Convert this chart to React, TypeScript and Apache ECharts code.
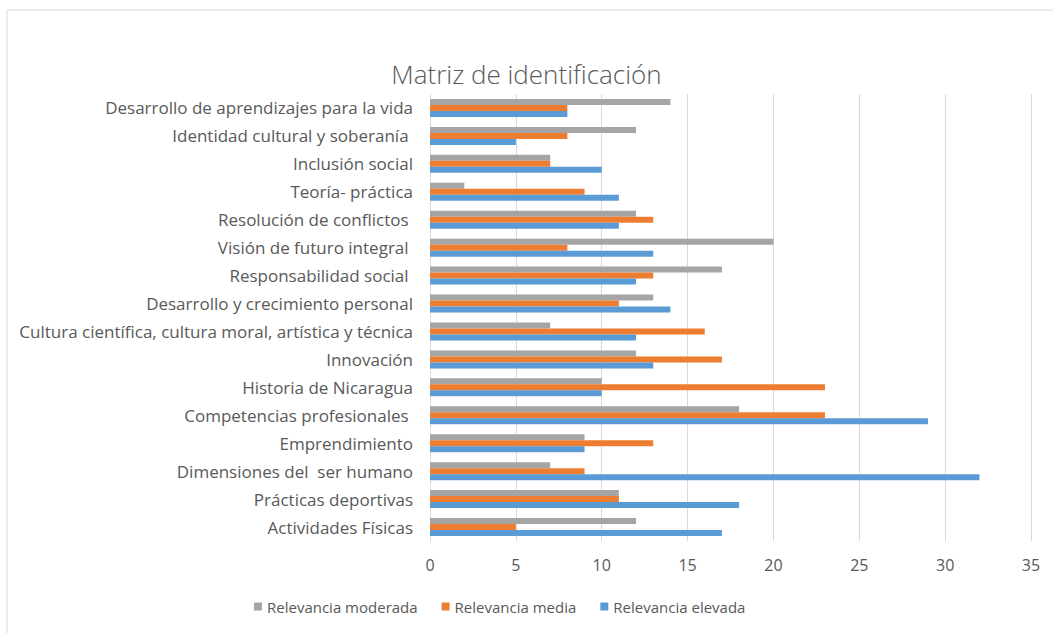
import React, { useEffect, useRef } from "react";
import * as echarts from "echarts";

const categories = [
  "Actividades Físicas",
  "Prácticas deportivas",
  "Dimensiones del  ser humano",
  "Emprendimiento",
  "Competencias profesionales ",
  "Historia de Nicaragua",
  "Innovación",
  "Cultura científica, cultura moral, artística y técnica",
  "Desarrollo y crecimiento personal",
  "Responsabilidad social ",
  "Visión de futuro integral ",
  "Resolución de conflictos ",
  "Teoría- práctica",
  "Inclusión social",
  "Identidad cultural y soberanía ",
  "Desarrollo de aprendizajes para la vida",
];

const elevada = [17, 18, 32, 9, 29, 10, 13, 12, 14, 12, 13, 11, 11, 10, 5, 8];
const media = [5, 11, 9, 13, 23, 23, 17, 16, 11, 13, 8, 13, 9, 7, 8, 8];
const moderada = [12, 11, 7, 9, 18, 10, 12, 7, 13, 17, 20, 12, 2, 7, 12, 14];

const xTicks = { min: 0, max: 35, interval: 5 };

const FONT = "Open Sans";

export default function App() {
  const ref = useRef<HTMLDivElement>(null);
  useEffect(() => {
    const chart = echarts.init(ref.current!, null, { renderer: "svg" });
    chart.setOption({
      animation: false,
      backgroundColor: "#ffffff",
      title: {
        text: "Matriz de identificación",
        left: "center",
        top: 56,
        textStyle: { fontFamily: FONT, fontSize: 26, fontWeight: 300, color: "#595959" },
      },
      graphic: [
        {
          type: "rect",
          shape: { x: 7, y: 10, width: 1100, height: 700 },
          style: { fill: "none", stroke: "#d9d9d9", lineWidth: 1 },
          silent: true,
        },
      ],
      legend: {
        data: ["Relevancia moderada", "Relevancia media", "Relevancia elevada"],
        left: 249,
        top: 594,
        itemWidth: 8,
        itemHeight: 8,
        itemGap: 24,
        icon: "rect",
        textStyle: { fontFamily: FONT, fontSize: 15, color: "#595959" },
      },
      grid: { left: 430, right: 22, top: 94, height: 447, containLabel: false },
      xAxis: {
        type: "value",
        min: xTicks.min,
        max: xTicks.max,
        interval: xTicks.interval,
        axisLine: { show: false },
        axisTick: { show: false },
        axisLabel: { fontFamily: FONT, fontSize: 16, color: "#595959", margin: 16 },
        splitLine: { show: true, lineStyle: { color: "#d9d9d9", width: 1 } },
      },
      yAxis: {
        type: "category",
        data: categories,
        axisLine: { show: true, lineStyle: { color: "#d9d9d9" } },
        axisTick: { show: false },
        axisLabel: { fontFamily: FONT, fontSize: 17, color: "#595959", margin: 17 },
      },
      series: [
        {
          name: "Relevancia moderada",
          type: "bar",
          data: moderada,
          barWidth: 6,
          barGap: "0%",
          itemStyle: { color: "#a5a5a5" },
        },
        {
          name: "Relevancia media",
          type: "bar",
          data: media,
          barWidth: 6,
          barGap: "0%",
          itemStyle: { color: "#ed7d31" },
        },
        {
          name: "Relevancia elevada",
          type: "bar",
          data: elevada,
          barWidth: 6,
          barGap: "0%",
          itemStyle: { color: "#5b9bd5" },
        },
      ],
    });
    return () => chart.dispose();
  }, []);
  return (
    <div
      ref={ref}
      style={{ position: "absolute", left: 0, top: 0, width: 1053, height: 633 }}
    />
  );
}
